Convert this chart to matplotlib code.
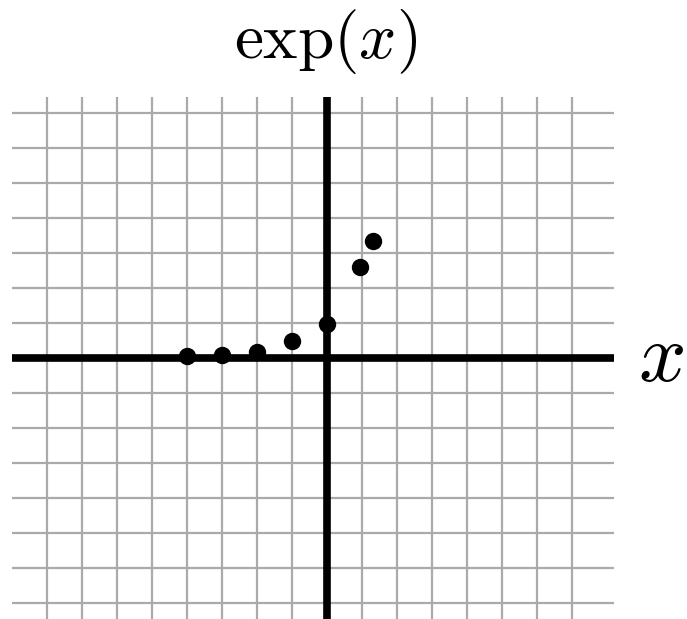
import matplotlib
matplotlib.use("Agg")
import matplotlib.pyplot as plt
import numpy as np

plt.rcParams['mathtext.fontset'] = 'cm'

# data
xs = [-4, -3, -2, -1, 0, 0.96, 1.32]
ys = [0.06, 0.09, 0.15, 0.49, 0.97, 2.58, 3.34]
grid_x = list(range(-8, 8))
grid_y = [v for v in range(-7, 8) if v != 0]
title = r'$\exp(x)$'
xlabel = r'$x$'

W, H = 687, 619
fig = plt.figure(figsize=(W / 100, H / 100), dpi=100)
left, right, top, bottom = 12, 614, 97, 619
ax = fig.add_axes([left / W, 1 - bottom / H, (right - left) / W, (bottom - top) / H])
ox, oy, u = 326.5, 357.7, 35.0
xlim = ((left - ox) / u, (right - ox) / u)
ylim = ((oy - bottom) / u, (oy - top) / u)
ax.set_xlim(*xlim)
ax.set_ylim(*ylim)
ax.axis('off')

ax.hlines(grid_y, xlim[0], xlim[1], color='#aaaaaa', lw=1.6, zorder=1)
ax.vlines(grid_x, ylim[0], ylim[1], color='#aaaaaa', lw=1.6, zorder=1)
ax.hlines([0], xlim[0], xlim[1], color='black', lw=5.5, zorder=2)
ax.vlines([0], ylim[0], ylim[1], color='black', lw=5.5, zorder=2)
ax.plot(xs, ys, 'o', color='black', ms=11.5, zorder=3, clip_on=False)

fig.text(326 / W, 1 - 42 / H, title, fontsize=47, ha='center', va='center')
fig.text(661 / W, 1 - 358 / H, xlabel, fontsize=60, ha='center', va='center')

fig.savefig('out.png', dpi=100)
